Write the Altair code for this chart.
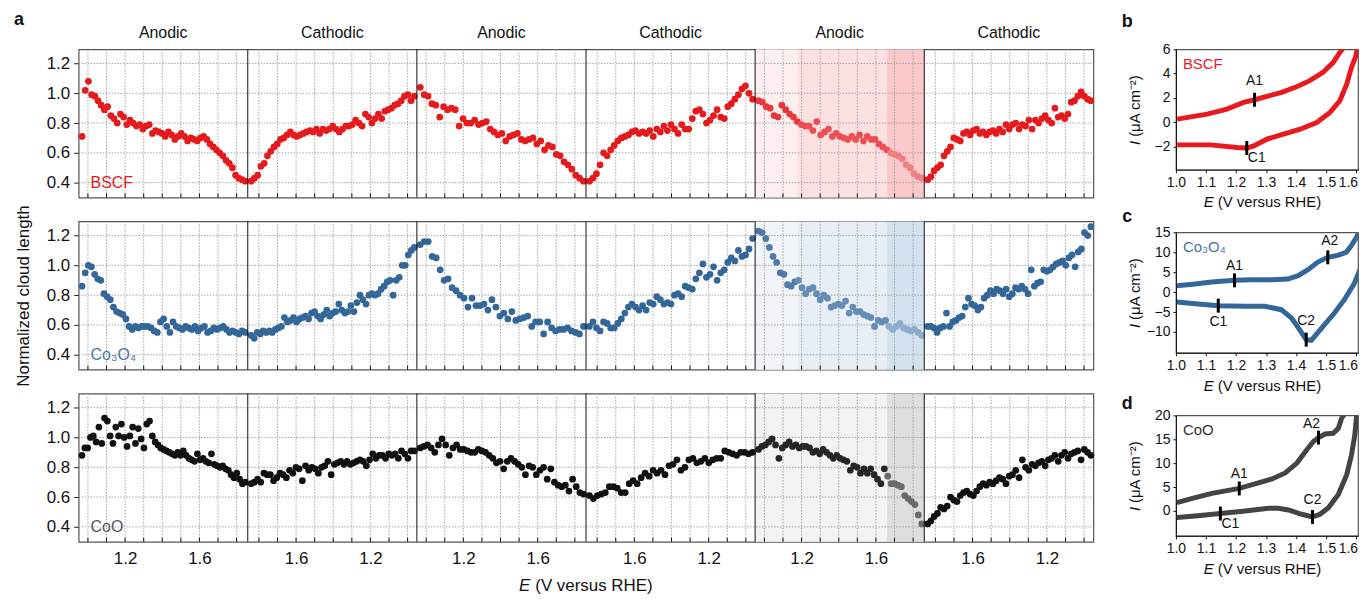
import altair as alt
import pandas as pd

FONT = "Liberation Sans"

# ---------------- data: panel a ----------------
SECTION_NAMES = ["Anodic", "Cathodic", "Anodic", "Cathodic", "Anodic", "Cathodic"]
E_MIN, E_MAX = 0.95, 1.86
TICK_E = [1.0, 1.1, 1.2, 1.3, 1.4, 1.5, 1.6, 1.7, 1.8]
LABEL_E = [1.2, 1.6]
Y_TICKS = [0.4, 0.6, 0.8, 1.0, 1.2]
HIGHLIGHT_SECTION = 4
BAND_E = [0.95, 1.18, 1.66, 1.86]

bscf_s1 = [0.71, 1.02, 1.08, 0.99, 0.98, 0.95, 0.92, 0.89, 0.91, 0.85, 0.83, 0.80, 0.86, 0.84, 0.79, 0.82, 0.80, 0.78,
           0.79, 0.76, 0.78, 0.79, 0.73, 0.75, 0.74, 0.73, 0.71, 0.74, 0.72, 0.69, 0.71, 0.73, 0.71, 0.68, 0.70, 0.69,
           0.68, 0.70, 0.71, 0.69, 0.66, 0.64, 0.62, 0.60, 0.58, 0.55, 0.53, 0.50, 0.45, 0.43, 0.42, 0.41]
bscf_s2 = [0.41, 0.43, 0.45, 0.51, 0.53, 0.58, 0.61, 0.64, 0.66, 0.69, 0.70, 0.72, 0.74, 0.72, 0.71, 0.72, 0.73, 0.74,
           0.75, 0.74, 0.76, 0.73, 0.76, 0.75, 0.76, 0.78, 0.76, 0.74, 0.76, 0.78, 0.78, 0.79, 0.82, 0.80, 0.78, 0.86,
           0.84, 0.80, 0.83, 0.86, 0.83, 0.88, 0.89, 0.90, 0.92, 0.93, 0.95, 0.98, 0.99, 0.95, 0.98]
bscf_s3 = [1.04, 0.99, 0.98, 0.93, 0.92, 0.84, 0.91, 0.89, 0.90, 0.89, 0.78, 0.83, 0.80, 0.80, 0.82, 0.79, 0.80, 0.81,
           0.76, 0.74, 0.72, 0.73, 0.68, 0.71, 0.72, 0.73, 0.69, 0.68, 0.69, 0.70, 0.66, 0.68, 0.62, 0.65, 0.64, 0.59,
           0.58, 0.54, 0.52, 0.49, 0.45, 0.43, 0.41]
bscf_s4 = [0.41, 0.43, 0.46, 0.52, 0.60, 0.58, 0.62, 0.65, 0.68, 0.70, 0.71, 0.72, 0.74, 0.75, 0.73, 0.74, 0.73, 0.75,
           0.71, 0.76, 0.74, 0.78, 0.75, 0.79, 0.76, 0.73, 0.79, 0.76, 0.76, 0.83, 0.88, 0.89, 0.86, 0.80, 0.82, 0.85,
           0.89, 0.84, 0.83, 0.91, 0.93, 0.96, 0.99, 1.03, 1.05, 1.00, 0.96]
bscf_s5 = [0.95, 0.94, 0.91, 0.90, 0.85, 0.84, 0.92, 0.89, 0.86, 0.84, 0.81, 0.79, 0.78, 0.78, 0.75, 0.81, 0.72, 0.74,
           0.76, 0.71, 0.73, 0.71, 0.70, 0.69, 0.71, 0.69, 0.72, 0.68, 0.71, 0.69, 0.69, 0.66, 0.64, 0.62, 0.60, 0.59,
           0.58, 0.56, 0.52, 0.50, 0.46, 0.44, 0.43]
bscf_s6 = [0.42, 0.44, 0.48, 0.50, 0.52, 0.58, 0.61, 0.64, 0.70, 0.69, 0.68, 0.73, 0.74, 0.72, 0.75, 0.76, 0.73, 0.74,
           0.72, 0.74, 0.75, 0.73, 0.76, 0.74, 0.79, 0.76, 0.79, 0.80, 0.76, 0.79, 0.78, 0.82, 0.76, 0.82, 0.80, 0.83,
           0.85, 0.82, 0.80, 0.90, 0.84, 0.85, 0.83, 0.86, 0.94, 0.95, 0.98, 1.01, 0.98, 0.96, 0.95]

co3o4_s1 = [0.86, 0.95, 1.00, 0.99, 0.94, 0.91, 0.90, 0.81, 0.79, 0.77, 0.72, 0.69, 0.68, 0.67, 0.64, 0.59, 0.57, 0.59,
            0.58, 0.59, 0.59, 0.59, 0.58, 0.56, 0.55, 0.62, 0.64, 0.59, 0.55, 0.62, 0.59, 0.58, 0.57, 0.59, 0.58, 0.57,
            0.59, 0.56, 0.58, 0.59, 0.55, 0.56, 0.58, 0.57, 0.58, 0.59, 0.57, 0.55, 0.56, 0.55, 0.54, 0.56, 0.55]
co3o4_s2 = [0.53, 0.51, 0.55, 0.54, 0.56, 0.55, 0.56, 0.55, 0.57, 0.58, 0.59, 0.65, 0.62, 0.63, 0.65, 0.62, 0.64, 0.65,
            0.66, 0.64, 0.68, 0.69, 0.66, 0.64, 0.67, 0.70, 0.66, 0.68, 0.69, 0.74, 0.70, 0.68, 0.69, 0.73, 0.69, 0.75,
            0.80, 0.77, 0.74, 0.80, 0.81, 0.80, 0.81, 0.84, 0.86, 0.89, 0.90, 0.80, 0.90, 0.92, 1.00, 1.00, 1.07, 1.10,
            1.12]
co3o4_s3 = [1.14, 1.16, 1.16, 1.06, 1.05, 0.97, 0.90, 0.91, 0.85, 0.83, 0.80, 0.78, 0.72, 0.78, 0.73, 0.73, 0.74, 0.70,
            0.77, 0.72, 0.66, 0.68, 0.64, 0.69, 0.63, 0.64, 0.65, 0.66, 0.59, 0.62, 0.62, 0.54, 0.62, 0.58, 0.56, 0.57,
            0.57, 0.58, 0.56, 0.55, 0.54, 0.59]
co3o4_s4 = [0.59, 0.62, 0.58, 0.56, 0.62, 0.61, 0.58, 0.58, 0.61, 0.64, 0.68, 0.72, 0.74, 0.72, 0.70, 0.73, 0.70, 0.75,
            0.74, 0.79, 0.77, 0.74, 0.75, 0.74, 0.80, 0.81, 0.79, 0.86, 0.85, 0.84, 0.91, 0.95, 1.01, 0.92, 0.94, 0.99,
            0.90, 0.95, 0.97, 1.02, 1.05, 1.03, 1.10, 1.06, 1.07, 1.11, 1.18]
co3o4_s5 = [1.23, 1.22, 1.18, 1.12, 1.06, 1.02, 0.95, 0.94, 0.87, 0.86, 0.89, 0.90, 0.85, 0.81, 0.84, 0.85, 0.81, 0.77,
            0.80, 0.78, 0.72, 0.73, 0.74, 0.73, 0.76, 0.68, 0.72, 0.69, 0.69, 0.67, 0.66, 0.65, 0.59, 0.63, 0.62, 0.63,
            0.59, 0.57, 0.59, 0.61, 0.58, 0.57, 0.56, 0.57, 0.55, 0.53]
co3o4_s6 = [0.59, 0.59, 0.58, 0.55, 0.58, 0.59, 0.68, 0.59, 0.62, 0.63, 0.65, 0.66, 0.72, 0.78, 0.74, 0.73, 0.70, 0.72,
            0.78, 0.80, 0.83, 0.81, 0.84, 0.83, 0.81, 0.84, 0.79, 0.81, 0.85, 0.84, 0.86, 0.84, 0.81, 0.97, 0.86, 0.88,
            0.89, 0.97, 0.96, 0.97, 0.99, 1.01, 1.02, 1.03, 1.00, 1.05, 1.07, 0.99, 1.09, 1.11, 1.22, 1.20, 1.26]

coo_s1 = [0.88, 0.93, 0.93, 1.00, 1.01, 0.97, 1.07, 0.96, 1.13, 1.11, 1.01, 0.96, 1.07, 1.01, 1.09, 1.00, 0.94, 1.01,
          1.07, 0.96, 1.06, 0.99, 0.93, 1.09, 1.11, 1.01, 0.97, 0.95, 0.93, 0.92, 0.91, 0.90, 0.89, 0.88, 0.90, 0.88,
          0.91, 0.88, 0.86, 0.85, 0.84, 0.89, 0.85, 0.86, 0.84, 0.83, 0.89, 0.82, 0.81, 0.80, 0.81, 0.79, 0.78, 0.75,
          0.73, 0.76, 0.72, 0.69, 0.70]
coo_s2 = [0.69, 0.70, 0.72, 0.70, 0.76, 0.75, 0.75, 0.71, 0.73, 0.76, 0.75, 0.73, 0.78, 0.76, 0.80, 0.79, 0.71, 0.81,
          0.78, 0.80, 0.79, 0.76, 0.80, 0.81, 0.84, 0.75, 0.82, 0.83, 0.84, 0.82, 0.84, 0.82, 0.83, 0.84, 0.85, 0.84,
          0.81, 0.85, 0.89, 0.86, 0.88, 0.88, 0.86, 0.89, 0.88, 0.89, 0.86, 0.91, 0.89, 0.86, 0.91, 0.91]
coo_s3 = [0.93, 0.94, 0.95, 0.93, 0.90, 0.95, 0.99, 0.95, 0.88, 0.93, 0.95, 0.92, 0.92, 0.91, 0.90, 0.90, 0.92, 0.91,
          0.90, 0.88, 0.86, 0.83, 0.84, 0.79, 0.84, 0.86, 0.84, 0.82, 0.80, 0.75, 0.81, 0.80, 0.75, 0.78, 0.80, 0.72,
          0.79, 0.70, 0.68, 0.67, 0.68, 0.64, 0.72, 0.67, 0.63, 0.62]
coo_s4 = [0.61, 0.59, 0.61, 0.62, 0.63, 0.67, 0.67, 0.66, 0.63, 0.63, 0.69, 0.71, 0.69, 0.73, 0.76, 0.74, 0.78, 0.76,
          0.78, 0.75, 0.81, 0.82, 0.85, 0.78, 0.80, 0.85, 0.86, 0.83, 0.84, 0.86, 0.83, 0.85, 0.86, 0.86, 0.91, 0.90,
          0.89, 0.88, 0.90, 0.90, 0.89, 0.90]
coo_s5 = [0.92, 0.94, 0.95, 0.97, 0.99, 0.95, 0.86, 0.93, 0.95, 0.97, 0.94, 0.95, 0.93, 0.94, 0.94, 0.93, 0.90, 0.91,
          0.89, 0.92, 0.90, 0.88, 0.86, 0.88, 0.86, 0.85, 0.84, 0.78, 0.81, 0.80, 0.76, 0.79, 0.76, 0.79, 0.75, 0.72,
          0.69, 0.79, 0.74, 0.69, 0.69, 0.68, 0.67, 0.61, 0.59, 0.57, 0.55, 0.48, 0.42]
coo_s6 = [0.42, 0.44, 0.47, 0.49, 0.53, 0.52, 0.54, 0.60, 0.58, 0.57, 0.61, 0.63, 0.64, 0.62, 0.61, 0.64, 0.67, 0.69,
          0.68, 0.70, 0.69, 0.71, 0.73, 0.72, 0.69, 0.74, 0.75, 0.78, 0.73, 0.85, 0.80, 0.78, 0.82, 0.81, 0.83, 0.84,
          0.81, 0.85, 0.86, 0.88, 0.84, 0.88, 0.90, 0.86, 0.89, 0.90, 0.91, 0.85, 0.92, 0.90, 0.88]

# ---------------- data: panels b-d (cyclic voltammograms) ----------------
bscf_an_E = [1.004, 1.104, 1.17, 1.225, 1.262, 1.303, 1.352, 1.402, 1.446, 1.49, 1.524, 1.546, 1.554, 1.56]
bscf_an_I = [0.26, 0.67, 1.08, 1.63, 1.85, 2.13, 2.46, 2.92, 3.42, 4.1, 4.93, 5.75, 6.0, 6.6]
bscf_ca_E = [1.004, 1.115, 1.203, 1.236, 1.259, 1.303, 1.358, 1.414, 1.469, 1.513, 1.546, 1.569, 1.585, 1.598, 1.604, 1.61]
bscf_ca_I = [-1.86, -1.86, -2.08, -2.12, -1.94, -1.39, -0.98, -0.57, -0.02, 0.81, 1.77, 3.14, 4.52, 5.34, 6.0, 6.6]
bscf_marks = [("A1", 1.262, 1.85), ("C1", 1.236, -2.12)]

co3o4_an_E = [1.003, 1.064, 1.119, 1.195, 1.252, 1.318, 1.373, 1.407, 1.44, 1.473, 1.506, 1.539, 1.567, 1.583, 1.6,
              1.611, 1.62]
co3o4_an_I = [1.62, 2.04, 2.54, 2.96, 3.13, 3.13, 3.29, 4.13, 5.64, 7.56, 8.73, 9.23, 9.98, 11.49, 13.58, 15.25, 16.5]
co3o4_ca_E = [1.003, 1.064, 1.141, 1.23, 1.296, 1.351, 1.385, 1.412, 1.434, 1.451, 1.467, 1.495, 1.528, 1.561, 1.595,
              1.622, 1.633, 1.64]
co3o4_ca_I = [-2.47, -2.89, -3.39, -3.56, -3.56, -4.4, -6.49, -9.41, -11.92, -12.09, -10.67, -8.16, -5.23, -1.89, 2.29,
              7.31, 9.4, 10.5]
co3o4_marks = [("A1", 1.195, 2.96), ("A2", 1.506, 8.73), ("C1", 1.141, -3.39), ("C2", 1.434, -11.92)]

coo_an_E = [1.003, 1.064, 1.12, 1.211, 1.275, 1.32, 1.364, 1.403, 1.436, 1.458, 1.475, 1.497, 1.524, 1.541, 1.552,
            1.558, 1.562]
coo_an_I = [1.73, 2.77, 3.67, 4.71, 5.88, 6.71, 7.96, 10.03, 12.8, 14.53, 15.36, 16.12, 16.26, 17.3, 19.4, 20.0, 21.0]
coo_ca_E = [1.003, 1.064, 1.148, 1.231, 1.308, 1.341, 1.375, 1.419, 1.455, 1.48, 1.508, 1.541, 1.569, 1.585, 1.596,
            1.602, 1.605]
coo_ca_I = [-1.38, -1.04, -0.55, 0.0, 0.55, 0.55, 0.21, -0.69, -1.25, -0.69, 0.69, 3.46, 7.61, 11.76, 15.92, 20.0, 21.0]
coo_marks = [("A1", 1.211, 4.71), ("A2", 1.475, 15.36), ("C1", 1.148, -0.55), ("C2", 1.455, -1.25)]

CV_X_TICKS = [1.0, 1.1, 1.2, 1.3, 1.4, 1.5, 1.6]
CV_E_RANGE = [1.0, 1.6066]

# ---------------- styles ----------------
MATERIALS = [
    dict(name="BSCF", sections=[bscf_s1, bscf_s2, bscf_s3, bscf_s4, bscf_s5, bscf_s6],
         color="#e41a1c", band_pts=["#e8383d", "#eb4f53", "#f17f7f"],
         band_fill=["#fdefef", "#fde1e1", "#fcc9ca"], label_color="#e41a1c"),
    dict(name="Co\u2083O\u2084", sections=[co3o4_s1, co3o4_s2, co3o4_s3, co3o4_s4, co3o4_s5, co3o4_s6],
         color="#336699", band_pts=["#4f7aa8", "#658cb6", "#8eaccb"],
         band_fill=["#f1f5fa", "#e7eef6", "#d4e2ef"], label_color="#4a75a5"),
    dict(name="CoO", sections=[coo_s1, coo_s2, coo_s3, coo_s4, coo_s5, coo_s6],
         color="#111111", band_pts=["#262626", "#262626", "#6a6a6a"],
         band_fill=["#f3f3f3", "#f3f3f3", "#dedede"], label_color="#555555"),
]

CV = [
    dict(letter="b", name="BSCF", color="#e8191f", an=(bscf_an_E, bscf_an_I), ca=(bscf_ca_E, bscf_ca_I),
         marks=bscf_marks, ydom=[-3.9, 6], yticks=[-2, 0, 2, 4, 6],
         offs={"A1": (0, -19), "C1": (10, 10)}, letter_y=-27, name_color="#e8191f"),
    dict(letter="c", name="Co\u2083O\u2084", color="#336699", an=(co3o4_an_E, co3o4_an_I), ca=(co3o4_ca_E, co3o4_ca_I),
         marks=co3o4_marks, ydom=[-15.2, 15], yticks=[-10, -5, 0, 5, 10, 15],
         offs={"A1": (0, -14), "A2": (2, -16), "C1": (0, 16), "C2": (0, -19)}, letter_y=-15,
         name_color="#4a75a5"),
    dict(letter="d", name="CoO", color="#444444", an=(coo_an_E, coo_an_I), ca=(coo_ca_E, coo_ca_I),
         marks=coo_marks, ydom=[-5.2, 20], yticks=[0, 5, 10, 15, 20],
         offs={"A1": (0, -15), "A2": (-7, -14), "C1": (10, 10), "C2": (0, -17)}, letter_y=-11,
         name_color="#333333"),
]

LW, LH = 1020, 149
RW, RH = 183, 121
SPAN = E_MAX - E_MIN


def to_u(k, e):
    f = (e - E_MIN) / SPAN
    return k + (f if k % 2 == 0 else 1 - f)


XS = alt.Scale(domain=[0, 6], nice=False, zero=False)
YS = alt.Scale(domain=[0.3, 1.295], nice=False, zero=False)

tick_u = [round(to_u(k, e), 5) for k in range(6) for e in TICK_E]
e_expr = (f"(floor(datum.value)%2==0 ? {E_MIN}+(datum.value-floor(datum.value))*{SPAN} "
          f": {E_MAX}-(datum.value-floor(datum.value))*{SPAN})")
label_expr = "''"
for e in reversed(LABEL_E):
    label_expr = f"(abs({e_expr}-{e})<0.02 ? '{e}' : {label_expr})"


def left_panel(mat, idx):
    rows = []
    for k, ys in enumerate(mat["sections"]):
        n = len(ys)
        for i, y in enumerate(ys):
            f = 0.02 + 0.965 * i / (n - 1)
            col = mat["color"]
            if k == HIGHLIGHT_SECTION:
                e = E_MIN + f * SPAN
                b = 0 if e < BAND_E[1] else (1 if e < BAND_E[2] else 2)
                col = mat["band_pts"][b]
            rows.append({"u": k + f, "v": y, "c": col})
    pts = pd.DataFrame(rows)
    shade = pd.DataFrame({
        "u": [to_u(HIGHLIGHT_SECTION, BAND_E[b]) for b in range(3)],
        "u2": [to_u(HIGHLIGHT_SECTION, BAND_E[b + 1]) for b in range(3)],
        "fill": mat["band_fill"],
    })
    bottom = idx == 2
    xaxis = alt.Axis(values=tick_u, labelExpr=label_expr, labels=bottom, ticks=False, domain=False,
                     grid=False, labelFontSize=17, labelPadding=9, labelColor="#111", title=None)
    yaxis = alt.Axis(values=Y_TICKS, format=".1f", tickSize=5, tickColor="#222", domain=False, grid=False,
                     labelFontSize=17, labelPadding=4, labelColor="#111",
                     title="Normalized cloud length" if idx == 1 else None,
                     titleFontSize=17, titleFontWeight="normal", titlePadding=14, titleColor="#111")
    X = lambda f: alt.X(f, scale=XS, axis=xaxis)

    rects = alt.Chart(shade).mark_rect().encode(
        x=X("u:Q"), x2="u2:Q",
        y=alt.value(0), y2=alt.value(LH), color=alt.Color("fill:N", scale=None))
    vgrid = alt.Chart(pd.DataFrame({"u": tick_u})).mark_rule(
        color="#9c9c9c", strokeDash=[1.5, 1.5], strokeWidth=0.9).encode(
        x=X("u:Q"), y=alt.value(0), y2=alt.value(LH))
    hgrid = alt.Chart(pd.DataFrame({"v": Y_TICKS})).mark_rule(
        color="#9c9c9c", strokeDash=[1.5, 1.5], strokeWidth=0.9).encode(
        y=alt.Y("v:Q", scale=YS, axis=yaxis), x=alt.value(0), x2=alt.value(LW))
    ticks = alt.Chart(pd.DataFrame({"u": tick_u})).mark_rule(color="#111", strokeWidth=1).encode(
        x=X("u:Q"), y=alt.value(LH), y2=alt.value(LH - 4))
    points = alt.Chart(pts).mark_circle(size=46, opacity=1).encode(
        x=X("u:Q"), y=alt.Y("v:Q", scale=YS, axis=yaxis),
        color=alt.Color("c:N", scale=None))
    bounds = alt.Chart(pd.DataFrame({"u": [1, 2, 3, 4, 5]})).mark_rule(color="#111", strokeWidth=1).encode(
        x=X("u:Q"), y=alt.value(0), y2=alt.value(LH))
    name = alt.Chart(pd.DataFrame({"t": [mat["name"]]})).mark_text(
        align="left", baseline="middle", fontSize=16, color=mat["label_color"]).encode(
        text="t:N", x=alt.value(12), y=alt.value(134))
    layers = [rects, vgrid, hgrid, ticks, points, bounds, name]
    if idx == 0:
        sec = pd.DataFrame({"u": [k + 0.5 for k in range(6)], "t": SECTION_NAMES})
        layers.append(alt.Chart(sec).mark_text(fontSize=16, baseline="middle", color="#111").encode(
            x=X("u:Q"), y=alt.value(-16), text="t:N"))
        layers.append(alt.Chart(pd.DataFrame({"t": ["a"]})).mark_text(
            fontSize=18, fontWeight="bold", baseline="middle", color="#111").encode(
            text="t:N", x=alt.value(-60), y=alt.value(-29)))
    if bottom:
        layers.append(alt.Chart(pd.DataFrame({"t": ["E"]})).mark_text(
            fontSize=17, fontStyle="italic", align="right", baseline="middle", color="#111").encode(
            text="t:N", x=alt.value(454), y=alt.value(193)))
        layers.append(alt.Chart(pd.DataFrame({"t": ["(V versus RHE)"]})).mark_text(
            fontSize=17, align="left", baseline="middle", color="#111").encode(
            text="t:N", x=alt.value(459), y=alt.value(193)))
    return alt.layer(*layers).properties(width=LW, height=LH)


def right_panel(cv):
    rows = []
    for br, (es, is_) in (("an", cv["an"]), ("ca", cv["ca"])):
        for i, (e, c) in enumerate(zip(es, is_)):
            rows.append({"E": e, "I": c, "br": br, "o": i})
    df = pd.DataFrame(rows)
    mk = pd.DataFrame([{"lab": m[0], "E": m[1], "I": m[2]} for m in cv["marks"]])
    xs = alt.Scale(domain=CV_E_RANGE, nice=False, zero=False)
    ys = alt.Scale(domain=cv["ydom"], nice=False, zero=False)
    last = CV_X_TICKS[-1]
    xaxis = alt.Axis(values=CV_X_TICKS, labelExpr=f"datum.value >= {last} ? '' : format(datum.value, '.1f')",
                     labelFontSize=14, tickSize=3, tickColor="#111",
                     domainColor="#111", grid=False, title=None, labelColor="#111", labelPadding=3,
                     labelOverlap=False, labelFlush=False)
    yaxis = alt.Axis(values=cv["yticks"], labelFontSize=14, tickSize=3, tickColor="#111", domainColor="#111",
                     grid=False, title=None, labelColor="#111", labelPadding=3)
    X = alt.X("E:Q", scale=xs, axis=xaxis)
    Y = alt.Y("I:Q", scale=ys, axis=yaxis)
    line = alt.Chart(df).mark_line(strokeWidth=5, clip=True, color=cv["color"]).encode(
        x=X, y=Y, detail="br:N", order="o:Q")
    marks = alt.Chart(mk).mark_point(shape="stroke", angle=90, size=196, strokeWidth=3, color="#000",
                                     opacity=1).encode(x=X, y=Y)
    labs = []
    for m in cv["marks"]:
        dx, dy = cv["offs"][m[0]]
        labs.append(alt.Chart(pd.DataFrame([{"lab": m[0], "E": m[1], "I": m[2]}])).mark_text(
            fontSize=14, dx=dx, dy=dy, baseline="middle", color="#111").encode(x=X, y=Y, text="lab:N"))
    last_lab = alt.Chart(pd.DataFrame({"E": [last], "t": [f"{last:.1f}"]})).mark_text(
        fontSize=14, align="right", baseline="top", dx=2, color="#111").encode(
        x=X, y=alt.value(RH + 6), text="t:N")
    name = alt.Chart(pd.DataFrame({"t": [cv["name"]]})).mark_text(
        align="left", baseline="middle", fontSize=15, color=cv["name_color"]).encode(
        text="t:N", x=alt.value(7), y=alt.value(15))
    letter = alt.Chart(pd.DataFrame({"t": [cv["letter"]]})).mark_text(
        fontSize=18, fontWeight="bold", baseline="middle", color="#111").encode(
        text="t:N", x=alt.value(-49), y=alt.value(cv["letter_y"]))
    xt1 = alt.Chart(pd.DataFrame({"t": ["E"]})).mark_text(
        fontSize=15, fontStyle="italic", align="right", baseline="middle", color="#111").encode(
        text="t:N", x=alt.value(38), y=alt.value(RH + 33))
    xt2 = alt.Chart(pd.DataFrame({"t": ["(V versus RHE)"]})).mark_text(
        fontSize=15, align="left", baseline="middle", color="#111").encode(
        text="t:N", x=alt.value(42), y=alt.value(RH + 33))
    yt1 = alt.Chart(pd.DataFrame({"t": ["I"]})).mark_text(
        fontSize=15, fontStyle="italic", align="right", baseline="middle", angle=270, color="#111").encode(
        text="t:N", x=alt.value(-41), y=alt.value(92))
    yt2 = alt.Chart(pd.DataFrame({"t": ["(\u03bcA cm\u207b\u00b2)"]})).mark_text(
        fontSize=15, align="left", baseline="middle", angle=270, color="#111").encode(
        text="t:N", x=alt.value(-41), y=alt.value(88))
    return alt.layer(line, marks, *labs, last_lab, name, letter, xt1, xt2, yt1, yt2).properties(
        width=RW, height=RH)


left = alt.vconcat(*[left_panel(m, i) for i, m in enumerate(MATERIALS)], spacing=24, bounds="flush")
right = alt.vconcat(*[right_panel(c) for c in CV], spacing=63, bounds="flush")

chart = alt.hconcat(left, right, spacing=25).properties(
    padding={"left": 5, "top": 1, "right": 0, "bottom": 0}
).configure(font=FONT).configure_view(stroke="#555", strokeWidth=1.2)

chart.save("out.html", embed_options={"renderer": "svg", "actions": False})
